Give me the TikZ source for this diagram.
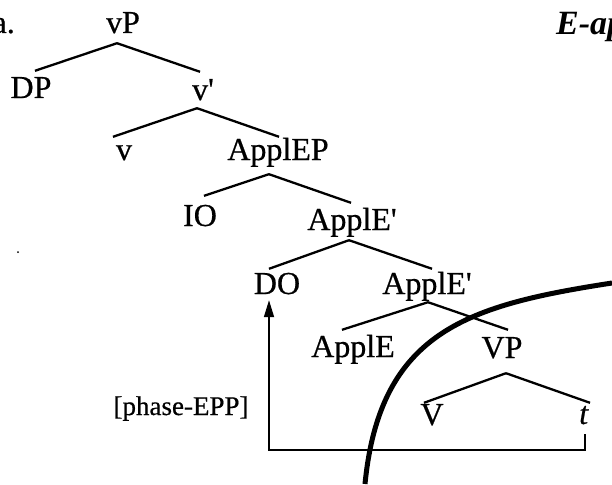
\documentclass[tikz,border=0pt]{standalone}
\usepackage{fontspec}
\setmainfont{Liberation Serif}
\newfontfamily\scan{Liberation Serif}[FakeBold=0.6]
\usetikzlibrary{arrows.meta}
\begin{document}
\begin{tikzpicture}[x=1pt,y=-1pt,
  lab/.style={font=\scan\fontsize{32}{36}\selectfont, inner xsep=0pt, inner ysep=3pt,
              text height=22pt, text depth=7pt, anchor=base},
  note/.style={font=\scan\fontsize{27}{32}\selectfont, inner sep=0pt, anchor=base},
  br/.style={line width=2.3pt},
  mv/.style={line width=1.7pt, -{Triangle[length=17pt,width=10pt]}},
  phase/.style={line width=5pt}]
\fill[white] (0,0) rectangle (612,484);
\useasboundingbox (0,0) rectangle (612,484);

% labels
\node[note, anchor=base east, font=\scan\fontsize{32}{36}\selectfont] (a) at (15,33) {a.};
\node[note, anchor=base west, font=\fontsize{34}{40}\selectfont] (eap) at (556,35) {\textbf{\textit{E-ap}}};

% tree nodes
\node[lab] (vP) at (123,33) {vP};
\node[lab] (DP) at (31,98) {DP};
\node[lab] (vbar) at (203,100) {v\textquotesingle};
\node[lab] (v) at (124,160) {v};
\node[lab] (ApplEP) at (278,160) {ApplEP};
\node[lab] (IO) at (200,226) {IO};
\node[lab] (ApplEbarA) at (352,230) {ApplE\textquotesingle};
\node[lab] (DO) at (277,294) {DO};
\node[lab] (ApplEbarB) at (427,294) {ApplE\textquotesingle};
\node[lab] (ApplE) at (353,357) {ApplE};
\node[lab] (VP) at (502,358) {VP};
\node[lab] (V) at (432,425) {V};
\node[lab] (t) at (584,424) {\textit{t}};
\node[note] (phaseEPP) at (181,415) {[phase-EPP]};

% branches
\draw[br] ([xshift=-6pt]vP.south) -- ([xshift=4pt,yshift=2pt]DP.north);
\draw[br] ([xshift=-6pt]vP.south) -- ([xshift=-3pt,yshift=3pt]vbar.north);
\draw[br] ([xshift=-6pt,yshift=2pt]vbar.south) -- ([xshift=-11pt,yshift=-2pt]v.north);
\draw[br] ([xshift=-6pt,yshift=2pt]vbar.south) -- ([xshift=1pt,yshift=-2pt]ApplEP.north);
\draw[br] ([xshift=-9pt,yshift=-4pt]ApplEP.south) -- ([xshift=4pt,yshift=5pt]IO.north);
\draw[br] ([xshift=-9pt,yshift=-4pt]ApplEP.south) -- ([xshift=-1pt,yshift=2pt]ApplEbarA.north);
\draw[br] ([xshift=-3pt]ApplEbarA.south) -- ([xshift=-8pt]DO.north);
\draw[br] ([xshift=-3pt]ApplEbarA.south) -- ([xshift=5pt]ApplEbarB.north);
\draw[br] ([xshift=1pt,yshift=2pt]ApplEbarB.south) -- ([xshift=-11pt,yshift=2pt]ApplE.north);
\draw[br] ([xshift=1pt,yshift=2pt]ApplEbarB.south) -- ([xshift=6pt,yshift=3pt]VP.north);
\draw[br] ([xshift=4pt,yshift=-5pt]VP.south) -- ([xshift=-8pt,yshift=-3pt]V.north);
\draw[br] ([xshift=4pt,yshift=-5pt]VP.south) -- ([xshift=6pt,yshift=-4pt]t.north);

% movement arrow
\draw[mv] ([xshift=1pt]t.south) -- ++(0,16) -| ([xshift=-8pt,yshift=4pt]DO.south);

% phase boundary
\draw[phase] (365,484) .. controls (380,330) and (470,305) .. (612,283);

% stray dot
\fill (18,252) circle (1pt);
\end{tikzpicture}
\end{document}
